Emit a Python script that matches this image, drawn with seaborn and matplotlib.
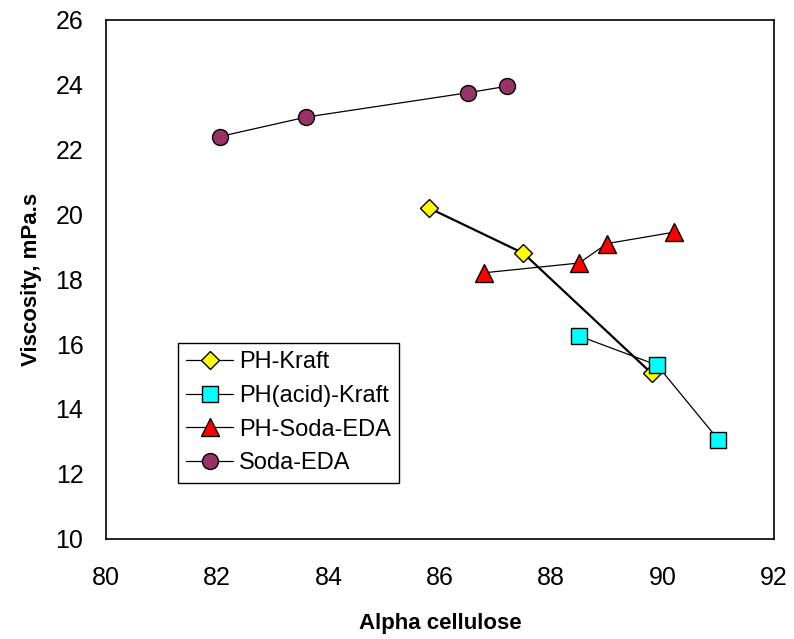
import matplotlib
matplotlib.use('Agg')
import matplotlib.pyplot as plt
import seaborn as sns
import pandas as pd

# Values
ph_kraft_x = [85.8, 87.5, 89.8]
ph_kraft_y = [20.2, 18.8, 15.1]

ph_acid_kraft_x = [88.5, 89.9, 91.0]
ph_acid_kraft_y = [16.25, 15.35, 13.05]

ph_soda_eda_x = [86.8, 88.5, 89.0, 90.2]
ph_soda_eda_y = [18.2, 18.5, 19.1, 19.45]

soda_eda_x = [82.05, 83.6, 86.5, 87.2]
soda_eda_y = [22.4, 23.0, 23.75, 23.95]

series = [
    ('PH-Kraft', ph_kraft_x, ph_kraft_y, 'D', '#FFFF00', 9.5, 1.6),
    ('PH(acid)-Kraft', ph_acid_kraft_x, ph_acid_kraft_y, 's', '#00FFFF', 11, 0.9),
    ('PH-Soda-EDA', ph_soda_eda_x, ph_soda_eda_y, '^', '#FF0000', 13, 0.9),
    ('Soda-EDA', soda_eda_x, soda_eda_y, 'o', '#993366', 11.5, 0.9),
]

sns.set_style('white')
plt.rcParams['font.family'] = ['Liberation Sans', 'DejaVu Sans']
plt.rcParams['text.color'] = 'black'

fig = plt.figure(figsize=(7.94, 6.39), dpi=100)
ax = fig.add_axes([0.133, 0.157, 0.842, 0.812])

for name, xs, ys, mk, col, ms, lw in series:
    df = pd.DataFrame({'x': xs, 'y': ys})
    sns.lineplot(data=df, x='x', y='y', ax=ax, sort=False, color='black', linewidth=lw,
                 marker=mk, markersize=ms, markerfacecolor=col, markeredgecolor='black',
                 markeredgewidth=1.0, label=name)

ax.set_xlim(80, 92)
ax.set_ylim(10, 26)
ax.set_xticks(range(80, 93, 2))
ax.set_yticks(range(10, 27, 2))
ax.tick_params(direction='in', length=5, width=1, labelsize=18, colors='black')
ax.tick_params(axis='x', pad=20)
ax.tick_params(axis='y', pad=16)
for sp in ax.spines.values():
    sp.set_color('black')
    sp.set_linewidth(1.2)

ax.set_xlabel('Alpha cellulose', fontsize=16, fontweight='bold', labelpad=16, color='black')
ax.set_ylabel('Viscosity, mPa.s', fontsize=16, fontweight='bold', labelpad=10, color='black')

leg = ax.legend(loc='lower left', bbox_to_anchor=(0.108, 0.108), fontsize=17,
                frameon=True, fancybox=False, edgecolor='black', framealpha=1,
                handlelength=2.0, borderpad=0.35, labelspacing=0.5, handletextpad=0.25,
                borderaxespad=0)
leg.get_frame().set_linewidth(1.0)
for line in leg.get_lines():
    line.set_linewidth(0.9)
for t in leg.get_texts():
    t.set_color('black')

fig.savefig('out.png', dpi=100)
